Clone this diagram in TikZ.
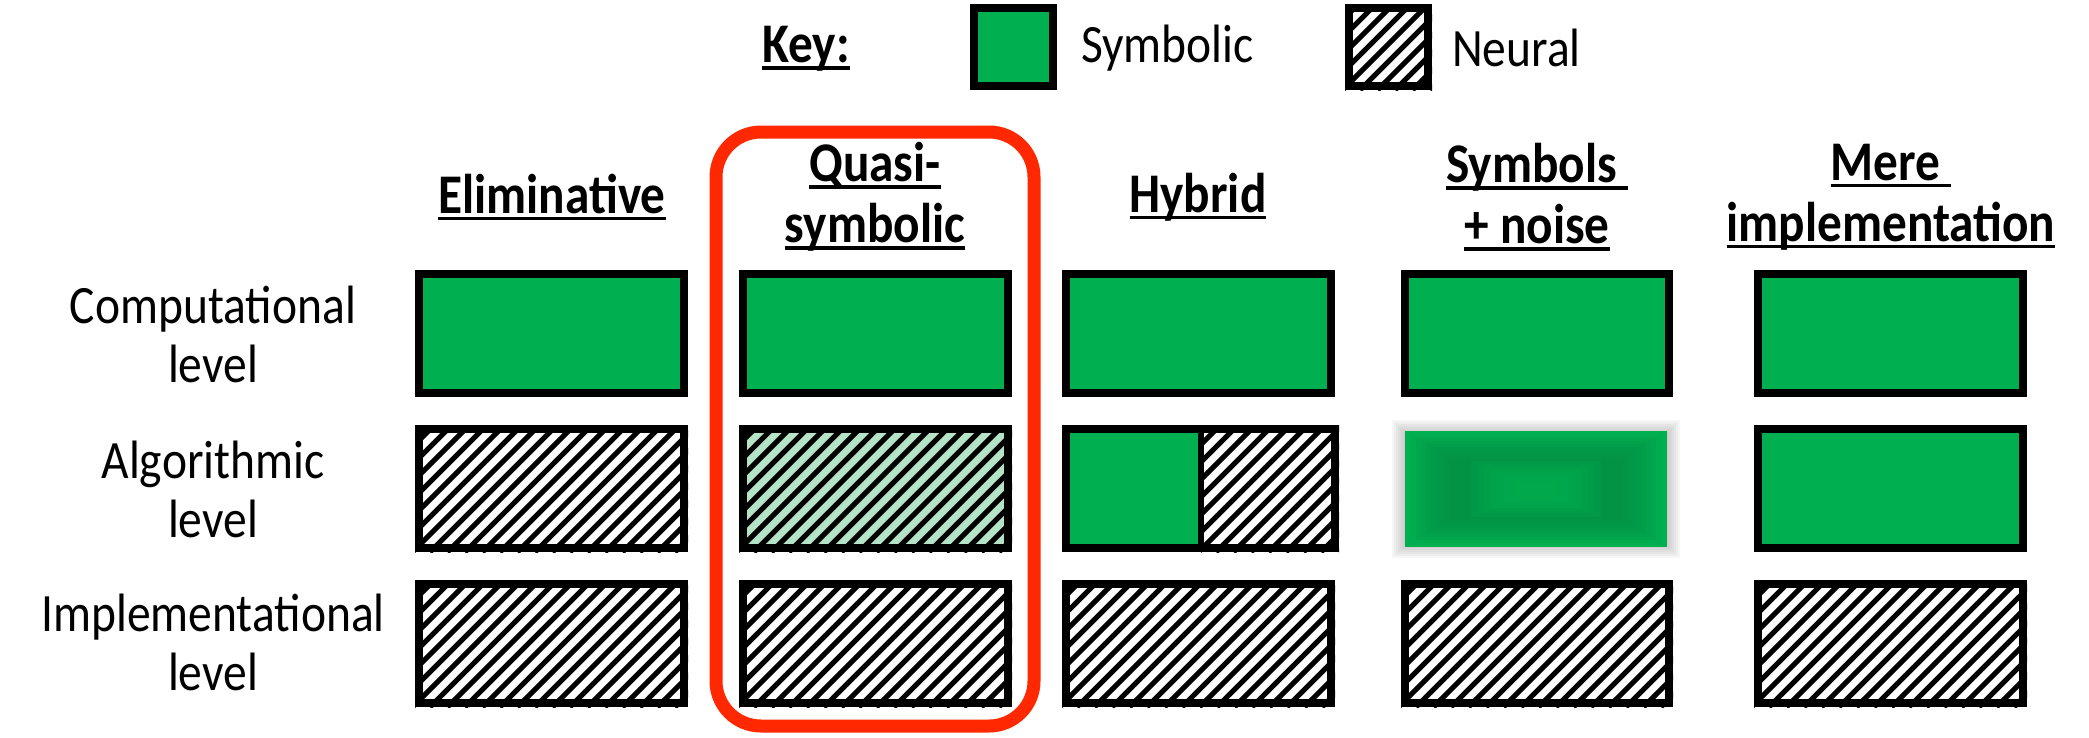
\documentclass[tikz,border=0pt]{standalone}
\usepackage{fontspec}
\setmainfont{Carlito}[FakeStretch=0.88]
\definecolor{sym}{HTML}{00B050}
\definecolor{symdark}{HTML}{0A8A45}
\definecolor{qfill}{HTML}{B5E3C8}
\definecolor{redbox}{RGB}{255,40,0}
\newcommand\myul[1]{\setbox0\hbox{#1}\leavevmode\rlap{\rule[-7pt]{\wd0}{3.5pt}}\box0}
% hatch fill only: x1 y1 x2 y2 (pixel coords, y downward) fill
\newcommand\hatchfill[5]{%
  \fill[#5] (#1,-#2) rectangle (#3,-#4);
  \begin{scope}
    \clip (#1,-#2) rectangle (#3,-#4);
    \foreach \i in {-160,-142.5,...,320}{
      \draw[line width=5.2pt] ({#1+\i},-#4) -- ({#1+\i+(#4-#2)},-#2);
    }
  \end{scope}
}
\newcommand\hatchbox[5]{%
  \hatchfill{#1}{#2}{#3}{#4}{#5}
  \draw[bx] ({#1+4},{-#2-4}) rectangle ({#3-4},{-#4+4});
}
\newcommand\greenbox[4]{%
  \draw[bx,fill=sym] ({#1+4},{-#2-4}) rectangle ({#3-4},{-#4+4});
}
\begin{document}
\begin{tikzpicture}[x=1pt,y=1pt,
  bx/.style={line width=8pt,draw=black},
  lbl/.style={align=center,font=\fontsize{54}{59}\selectfont,inner sep=0},
  hdr/.style={align=center,font=\fontsize{56}{61}\selectfont\bfseries,inner sep=0}]
\useasboundingbox (0,0) rectangle (2089,-737);
% key
\node[hdr] (key) at (806,-49) {\myul{Key:}};
\greenbox{970}{4}{1057}{90}
\node[lbl,anchor=west] (ksym) at (1081,-48) {Symbolic};
\hatchbox{1345}{4}{1432}{90}{white}
\node[lbl,anchor=west] (kneu) at (1452,-48) {Neural};
% red rounded rectangle
\draw[redbox,line width=13pt,rounded corners=45pt] (716,-132) rectangle (1034,-726);
% headers
\node[hdr] (h1) at (552,-197) {\myul{Eliminative}};
\node[hdr] (h2) at (875,-197) {\myul{Quasi-}\\\myul{symbolic}};
\node[hdr] (h3) at (1198,-197) {\myul{Hybrid}};
\node[hdr] (h4) at (1537,-197) {\myul{Symbols\ }\\\myul{+ noise}};
\node[hdr] (h5) at (1891,-197) {\myul{Mere\ }\\\myul{implementation}};
% row labels
\node[lbl] (r1) at (213,-334) {Computational\\level};
\node[lbl] (r2) at (213,-489) {Algorithmic\\level};
\node[lbl] (r3) at (213,-642) {Implementational\\level};
% row 1
\greenbox{415}{270}{688}{397}
\greenbox{739}{270}{1012}{397}
\greenbox{1062}{270}{1335}{397}
\greenbox{1401}{270}{1673}{397}
\greenbox{1754}{270}{2027}{397}
% row 2
\hatchbox{415}{425}{688}{552}{white}
\hatchbox{739}{425}{1012}{552}{qfill}
\fill[sym] (1066,-429) rectangle (1201,-548);
\hatchfill{1201}{425}{1339}{552}{white}
\draw[bx] (1066,-429) rectangle (1335,-548);
\draw[line width=6pt] (1201,-429) -- (1201,-548);
% blurred box
\foreach \k in {0,2,...,12}{
  \fill[gray,opacity=0.07] ({1392+\k},{-420-\k}) rectangle ({1680-\k},{-558+\k});
}
\fill[sym] (1405,-431) rectangle (1667,-547);
\foreach \k in {4,7,...,28}{
  \fill[symdark,opacity=0.12] ({1405+\k*1.6},{-431-\k}) rectangle ({1667-\k*1.6},{-547+\k});
}
\foreach \k in {30,33,...,54}{
  \fill[sym,opacity=0.2] ({1405+\k*2.2},{-431-\k}) rectangle ({1667-\k*2.2},{-547+\k});
}
\greenbox{1754}{425}{2027}{552}
% row 3
\hatchbox{415}{580}{688}{707}{white}
\hatchbox{739}{580}{1012}{707}{white}
\hatchbox{1062}{580}{1335}{707}{white}
\hatchbox{1401}{580}{1673}{707}{white}
\hatchbox{1754}{580}{2027}{707}{white}
\end{tikzpicture}
\end{document}
